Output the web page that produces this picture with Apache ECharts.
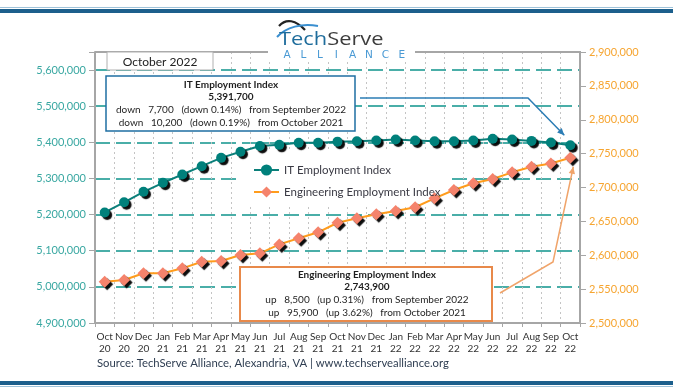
<!DOCTYPE html>
<html><head><meta charset="utf-8">
<script src="https://cdn.jsdelivr.net/npm/echarts@6/dist/echarts.min.js"></script>
<style>html,body{margin:0;padding:0;background:#fff}#c{width:673px;height:389px}</style>
</head><body><div id="c"></div>
<script>
const categories = ['Oct\n20','Nov\n20','Dec\n20','Jan\n21','Feb\n21','Mar\n21','Apr\n21','May\n21','Jun\n21','Jul\n21','Aug\n21','Sep\n21','Oct\n21','Nov\n21','Dec\n21','Jan\n22','Feb\n22','Mar\n22','Apr\n22','May\n22','Jun\n22','Jul\n22','Aug\n22','Sep\n22','Oct\n22'];
const itValues = [5206000,5234000,5263000,5288000,5311000,5334000,5357000,5374000,5390000,5393000,5399000,5399000,5401900,5403000,5405000,5408000,5405000,5403000,5403000,5405000,5410000,5408000,5404000,5399400,5391700];
const engValues = [2561000,2563500,2573400,2573400,2580700,2590500,2591500,2600400,2602900,2616000,2625000,2633900,2648000,2654500,2660400,2665300,2670800,2684000,2696300,2706200,2712500,2722400,2730700,2735400,2743900];
const leftTicks = [4900000,5000000,5100000,5200000,5300000,5400000,5500000,5600000];
const rightTicks = [2500000,2550000,2600000,2650000,2700000,2750000,2800000,2850000,2900000];
const itName = 'IT Employment Index';
const engName = 'Engineering Employment Index';
const itBoxLines = ['IT Employment Index','5,391,700','down   7,700   (down 0.14%)   from September 2022','down   10,200   (down 0.19%)   from October 2021'];
const engBoxLines = ['Engineering Employment Index','2,743,900','up   8,500   (up 0.31%)   from September 2022','up   95,900   (up 3.62%)   from October 2021'];
const monthTab = 'October 2022';
const sourceText = 'Source: TechServe Alliance, Alexandria, VA | www.techservealliance.org';

const FONT = 'Lato, "Open Sans", sans-serif';
const fmt = v => v.toLocaleString('en-US');
const chart = echarts.init(document.getElementById('c'), null, {renderer:'canvas'});

const option = {
  backgroundColor:'#fff',
  animation:false,
  textStyle:{fontFamily:FONT},
  grid:{left:95,right:93,top:52,bottom:66,containLabel:false},
  legend:{
    orient:'vertical', left:248, top:159, itemWidth:25, itemHeight:14, itemGap:10,
    data:[itName, engName],
    textStyle:{fontSize:11.5,color:'#3a3a44',fontFamily:FONT},
    itemStyle:{shadowColor:'rgba(0,0,0,0)',shadowBlur:0,shadowOffsetX:0,shadowOffsetY:0}
  },
  xAxis:{
    type:'category', data:categories, boundaryGap:true,
    axisLine:{lineStyle:{color:'#a6a6a6',width:2}},
    axisTick:{show:true,length:4,lineStyle:{color:'#a6a6a6'}},
    axisLabel:{interval:0,color:'#333',fontSize:10,lineHeight:12,margin:8,fontFamily:FONT},
    splitLine:{show:true,lineStyle:{color:'#c4c4c4',type:[2,3],width:1}}
  },
  yAxis:[{
    type:'value', min:4900000, max:5650000, interval:100000, position:'left',
    axisLine:{show:true,lineStyle:{color:'#a6a6a6',width:2}},
    axisTick:{show:true,length:6,lineStyle:{color:'#a6a6a6'}},
    axisLabel:{color:'#3aa8a2',fontSize:11,margin:9,fontFamily:FONT,
      formatter:v => leftTicks.indexOf(v) >= 0 ? fmt(v) : ''},
    splitLine:{show:true,lineStyle:{color:'#4aaea8',width:2,type:[15,6]}}
  },{
    type:'value', min:2500000, max:2900000, interval:50000, position:'right',
    axisLine:{show:true,lineStyle:{color:'#a6a6a6',width:2}},
    axisTick:{show:true,length:6,lineStyle:{color:'#a6a6a6'}},
    axisLabel:{color:'#f6a531',fontSize:11,margin:9,fontFamily:FONT,
      formatter:v => rightTicks.indexOf(v) >= 0 ? fmt(v) : ''},
    splitLine:{show:false}
  }],
  series:[{
    name:itName, type:'line', yAxisIndex:0, data:itValues, z:3,
    symbol:'circle', symbolSize:10,
    lineStyle:{color:'#0b7f7a',width:2},
    itemStyle:{color:'#00807b',shadowColor:'rgba(0,0,0,0.95)',shadowBlur:1,shadowOffsetX:2.5,shadowOffsetY:2.5}
  },{
    name:engName, type:'line', yAxisIndex:1, data:engValues, z:3,
    symbol:'diamond', symbolSize:12,
    lineStyle:{color:'#ff9c1c',width:2},
    itemStyle:{color:'#f5836c',shadowColor:'rgba(0,0,0,0.95)',shadowBlur:1,shadowOffsetX:2.5,shadowOffsetY:2.5}
  }]
};
chart.setOption(option);

const last = categories.length - 1;
const pIT = chart.convertToPixel({xAxisIndex:0,yAxisIndex:0},[last, itValues[last]]);
const pEng = chart.convertToPixel({xAxisIndex:0,yAxisIndex:1},[last, engValues[last]]);

function arrowHead(tip, from, color, z){
  const dx = tip[0]-from[0], dy = tip[1]-from[1];
  const L = Math.hypot(dx,dy), ux = dx/L, uy = dy/L;
  const len = 7, w = 3.2;
  const bx = tip[0]-ux*len, by = tip[1]-uy*len;
  return {type:'polygon', z:z, shape:{points:[tip,[bx-uy*w,by+ux*w],[bx+uy*w,by-ux*w]]}, style:{fill:color}};
}
function boxText(lines, cx, y0, z){
  return lines.map((t,i)=>({type:'text', z:z, x:cx, y:y0+i*12.7,
    style:{text:t, fill:'#1e1e1e', font:(i<2?'bold ':'')+'10px '+FONT, textAlign:'center', textVerticalAlign:'middle'}}));
}

const itArrowPts = [[360,98],[528,98],[pIT[0]-6,pIT[1]-10]];
const engArrowPts = [[500,293],[553,262],[pEng[0]+3,pEng[1]+9]];

const els = [];
els.push({type:'rect', z:1, shape:{x:0,y:9,width:673,height:4}, style:{fill:'#1c5f8c'}});
els.push({type:'rect', z:1, shape:{x:0,y:7,width:673,height:1}, style:{fill:'#9fc3da'}});
els.push({type:'rect', z:1, shape:{x:0,y:381,width:673,height:4}, style:{fill:'#1c5f8c'}});
els.push({type:'rect', z:1, shape:{x:0,y:386,width:673,height:1}, style:{fill:'#9fc3da'}});
els.push({type:'line', z:1, shape:{x1:95,y1:52,x2:581,y2:52}, style:{stroke:'#a6a6a6',lineWidth:2}});
els.push({type:'rect', z:1, shape:{x:107,y:52,width:106,height:18}, style:{fill:'#fff',stroke:'#b0b0b0',lineWidth:1}});
els.push({type:'text', z:1, x:160, y:62, style:{text:monthTab, fill:'#222', font:'12px '+FONT, textAlign:'center', textVerticalAlign:'middle'}});
els.push({type:'rect', z:1, shape:{x:106,y:76,width:249,height:55}, style:{fill:'#fff',stroke:'#1f6fa3',lineWidth:1.5}});
boxText(itBoxLines, 231, 84.5, 1).forEach(e=>els.push(e));
els.push({type:'rect', z:1, shape:{x:242,y:150,width:210,height:54}, style:{fill:'#fff'}});
els.push({type:'rect', z:4, shape:{x:240,y:267,width:252,height:54}, style:{fill:'#fff',stroke:'#e8894a',lineWidth:2}});
boxText(engBoxLines, 367, 274.5, 4).forEach(e=>els.push(e));
els.push({type:'polyline', z:5, shape:{points:itArrowPts}, style:{stroke:'#2c7db5',lineWidth:1.5,fill:null}});
els.push(arrowHead(itArrowPts[2], itArrowPts[1], '#2c7db5', 5));
els.push({type:'polyline', z:5, shape:{points:engArrowPts}, style:{stroke:'#f0a46a',lineWidth:1.5,fill:null}});
els.push(arrowHead(engArrowPts[2], engArrowPts[1], '#f0a46a', 5));
// logo
els.push({type:'rect', z:5, shape:{x:268,y:16,width:147,height:46}, style:{fill:'#fff'}});
els.push({type:'bezierCurve', z:6, shape:{x1:279,y1:26,cpx1:286,cpy1:18,cpx2:296,cpy2:20,x2:305,y2:30}, style:{stroke:'#222',lineWidth:2.2,fill:null}});
els.push({type:'bezierCurve', z:6, shape:{x1:277,y1:37,cpx1:286,cpy1:27,cpx2:302,cpy2:23,x2:318,y2:26}, style:{stroke:'#3a8fd0',lineWidth:2,fill:null}});
els.push({type:'text', z:6, x:279, y:49, scaleX:1.15, originX:0, originY:0,
  style:{text:'{a|Tech}{b|Serve}', textVerticalAlign:'bottom',
    rich:{a:{fill:'#1f6d9c', font:'19px "Open Sans", sans-serif'}, b:{fill:'#3d3d3d', font:'19px "Open Sans", sans-serif'}}}});
'ALLIANCE'.split('').forEach((ch,i)=>{
  els.push({type:'text', z:6, x:287+i*16.4, y:55, style:{text:ch, fill:'#4a9ad4', font:'10.5px "DejaVu Sans", sans-serif', textAlign:'center', textVerticalAlign:'middle'}});
});
els.push({type:'text', z:1, x:97, y:363, style:{text:sourceText, fill:'#2f3e52', font:'11.3px '+FONT, textVerticalAlign:'middle'}});

chart.setOption({graphic:{elements:els}});
</script></body></html>
